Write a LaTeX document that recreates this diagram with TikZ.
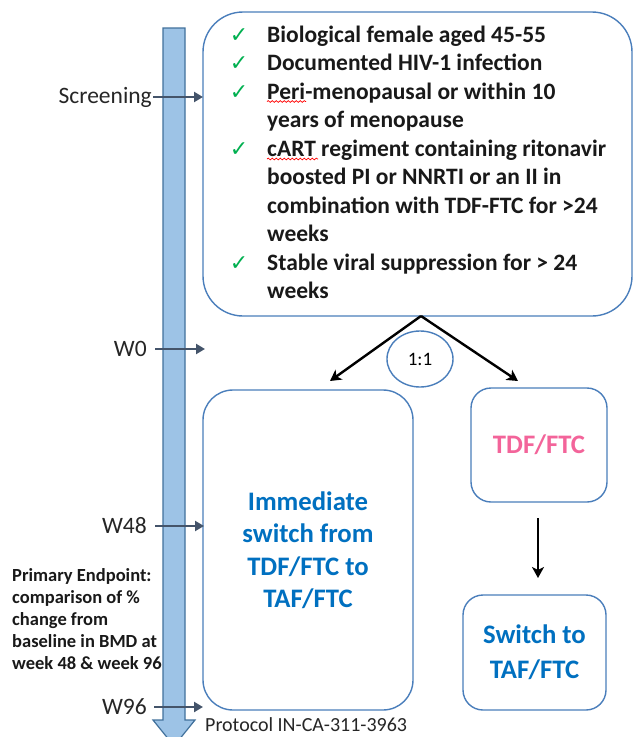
\documentclass[tikz,border=0pt]{standalone}
\usepackage{fontspec}
\setmainfont{Carlito}
\newfontfamily\dejavu{DejaVu Sans}
\usetikzlibrary{arrows.meta,shapes.geometric,decorations.pathmorphing}
\definecolor{boxblue}{HTML}{4A7EBB}
\definecolor{barfill}{HTML}{9DC3E6}
\definecolor{baredge}{HTML}{41719C}
\definecolor{tlarrow}{HTML}{44546A}
\definecolor{txtblue}{HTML}{0070C0}
\definecolor{txtpink}{HTML}{F3649A}
\definecolor{chkgreen}{HTML}{00B050}
\begin{document}
\begin{tikzpicture}[x=1pt,y=-1pt,
  rbox/.style={draw=boxblue,line width=1.4pt,fill=white,inner sep=0pt},
  crit/.style={anchor=base west,inner sep=0pt,font=\fontsize{23.5}{28}\selectfont\bfseries,text=black!90},
  chk/.style={anchor=base,inner sep=0pt,font=\dejavu\bfseries\fontsize{22}{22}\selectfont,text=chkgreen},
  tllab/.style={anchor=east,inner sep=0pt,font=\fontsize{23.5}{28}\selectfont,text=black!85},
  tl/.style={draw=tlarrow,line width=2.8pt,-{Triangle[length=9pt,width=10pt]}},
  blk/.style={draw=black,line width=2.4pt,-{Stealth[length=11pt,width=12pt,inset=3pt]}},
  squig/.style={draw=red,line width=0.7pt,decorate,decoration={snake,amplitude=0.9pt,segment length=4pt}},
  armtext/.style={font=\fontsize{26.7}{32.5}\selectfont\bfseries,align=center}
]
\clip (0,0) rectangle (634,737);
\fill[white] (0,0) rectangle (634,737);
% timeline bar
\draw[fill=barfill,draw=baredge,line width=1.2pt,line join=miter]
  (163,28) -- (185,28) -- (185,720) -- (195,720) -- (174,746) -- (153,720) -- (163,720) -- cycle;
% main criteria box
\node[rbox,rounded corners=40pt,minimum width=429pt,minimum height=304pt] (main) at (417.5,164) {};
\foreach \yy/\nm in {35/c1,63/c2,92/c3,149/c4,263/c5}{
  \node[chk] (k\nm) at (239,\yy+7.5) {✓};
}
\node[crit] (c1) at (267,42.5) {Biological female aged 45-55};
\node[crit] (c2) at (267,70.5) {Documented HIV-1 infection};
\node[crit] (c3) at (267,99.5) {Peri-menopausal or within 10};
\node[crit] (c3b) at (267,127.5) {years of menopause};
\node[crit] (c4) at (267,156.5) {cART regiment containing ritonavir};
\node[crit] (c4b) at (267,184.5) {boosted PI or NNRTI or an II in};
\node[crit] (c4c) at (267,213.5) {combination with TDF-FTC for >24};
\node[crit] (c4d) at (267,241.5) {weeks};
\node[crit] (c5) at (267,270.5) {Stable viral suppression for > 24};
\node[crit] (c5b) at (267,298.5) {weeks};
\draw[squig] (267,101.5) -- (306,101.5);
\draw[squig] (267,159) -- (318,159);
% randomisation
\node[draw=boxblue,line width=1.4pt,ellipse,minimum width=66pt,minimum height=56pt,inner sep=0pt,
  font=\fontsize{19}{21}\selectfont] (rand) at (420,359) {1:1};
\coordinate (apex) at (421,316);
\coordinate (lend) at (330,381);
\coordinate (rend) at (518,381);
\draw[blk] (apex) -- (lend);
\draw[blk] (apex) -- (rend);
% arms
\node[rbox,rounded corners=30pt,minimum width=210pt,minimum height=320pt,armtext,text=txtblue] (imm) at (308,550)
  {Immediate\\switch from\\TDF/FTC to\\TAF/FTC};
\node[rbox,rounded corners=20pt,minimum width=136pt,minimum height=114pt,armtext,text=txtpink] (tdf) at (539,445) {TDF/FTC};
\node[rbox,rounded corners=20pt,minimum width=143pt,minimum height=115pt,text=txtblue,
  font=\fontsize{26.7}{35}\selectfont\bfseries,align=center] (sw) at (534.5,652.5) {Switch to\\TAF/FTC};
\coordinate (dtop) at (538,518);
\coordinate (dbot) at (538,578);
\draw[blk,line width=1.8pt] (dtop) -- (dbot);
% timeline labels and arrows
\node[tllab] (scr) at (152,97) {Screening};
\node[tllab] (w0) at (147,349) {W0};
\node[tllab] (w48) at (147,526) {W48};
\node[tllab] (w96) at (147,707) {W96};
\coordinate (scre) at (203,97);
\coordinate (w0e) at (205,349);
\coordinate (w48e) at (204,526);
\coordinate (w96e) at (203,707);
\draw[tl] ([xshift=1pt]scr.east) -- (scre);
\draw[tl] ([xshift=8pt]w0.east) -- (w0e);
\draw[tl] ([xshift=8pt]w48.east) -- (w48e);
\draw[tl] ([xshift=7pt]w96.east) -- (w96e);
% endpoint
\node[anchor=west,inner sep=0pt,align=left,font=\fontsize{18.5}{21.8}\selectfont\bfseries,text=black!90] (pe) at (12,619)
  {Primary Endpoint:\\comparison of \%\\change from\\baseline in BMD at\\week 48 \& week 96};
% protocol
\node[anchor=west,inner sep=0pt,font=\fontsize{20}{24}\selectfont,text=black!85] (prot) at (205,725) {Protocol IN-CA-311-3963};
\end{tikzpicture}
\end{document}
